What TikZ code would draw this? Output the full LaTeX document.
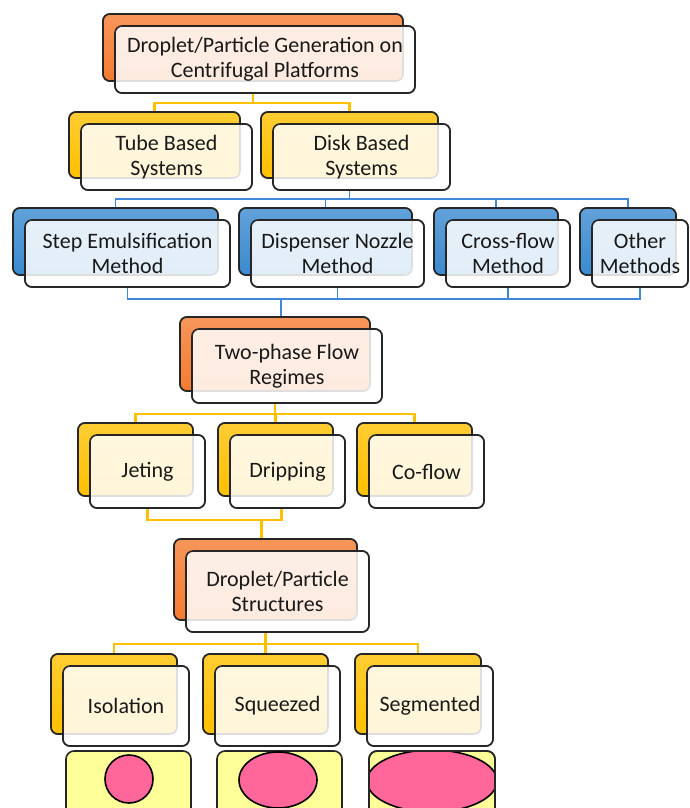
\documentclass[tikz,border=0pt]{standalone}
\usepackage{fontspec}
\setmainfont{Carlito}
\usetikzlibrary{calc}
\definecolor{orangeB}{HTML}{F47B30}
\definecolor{yellowB}{HTML}{FFC000}
\definecolor{blueB}{HTML}{3A8AD0}
\definecolor{yconnC}{HTML}{FFC000}
\definecolor{bconnC}{HTML}{3F88D6}
\definecolor{paleY}{HTML}{FFFF99}
\definecolor{pinkD}{HTML}{FF6699}
\tikzset{
  backbox/.style={draw=black!85, line width=0.8pt, rounded corners=3.5pt,
    top color=#1!80!white, bottom color=#1, shading angle=0},
  frontbox/.style={draw=black!85, line width=0.8pt, rounded corners=3.5pt,
    fill=white, fill opacity=0.85, text opacity=1, align=center, text=black!90,
    font=\fontsize{11}{12.5}\selectfont, inner sep=0pt},
  yconn/.style={draw=yconnC, line width=1.1pt},
  bconn/.style={draw=bconnC, line width=0.9pt},
  shapebox/.style={draw=black!85, line width=0.8pt, rounded corners=4pt, fill=paleY},
  drop/.style={draw=black, line width=0.8pt, fill=pinkD}
}
\newcommand\twobox[7]{%
  \pgfmathsetmacro\bw{(#5-#3)*0.5}%
  \pgfmathsetmacro\bh{(#6-#4)*0.5}%
  \node[backbox=#2, minimum width=\bw pt, minimum height=\bh pt] (#1b) at ({(#3+#5)/2},{(#4+#6)/2}) {};
  \node[frontbox, minimum width=\bw pt, minimum height=\bh pt] (#1) at ({(#3+#5)/2+12},{(#4+#6)/2+12}) {#7};
}
\begin{document}
\begin{tikzpicture}[x=0.5pt,y=-0.5pt]
\useasboundingbox (0,0) rectangle (690,808);
\clip (0,0) rectangle (690,808);
\fill[white] (0,0) rectangle (690,808);

% connectors (drawn first, under boxes)
\coordinate (h1) at (0,103);
\coordinate (h2) at (0,199);
\coordinate (h3) at (0,299);
\coordinate (h4) at (0,414);
\coordinate (h5) at (0,520);
\coordinate (h6) at (0,644);

\twobox{top}{orangeB}{103}{14}{403}{81}{Droplet/Particle Generation on\\Centrifugal Platforms}
\twobox{tube}{yellowB}{69}{112}{240}{178}{Tube Based\\Systems}
\twobox{disk}{yellowB}{261}{112}{438}{178}{Disk Based\\Systems}
\twobox{step}{blueB}{13}{208}{218}{275}{Step Emulsification\\Method}
\twobox{disp}{blueB}{239}{208}{412}{275}{Dispenser Nozzle\\Method}
\twobox{cross}{blueB}{434}{208}{558}{275}{Cross-flow\\Method}
\twobox{other}{blueB}{580}{208}{676}{275}{Other\\Methods}
\twobox{tp}{orangeB}{180}{317}{370}{391}{Two-phase Flow\\Regimes}
\twobox{jet}{yellowB}{78}{423}{193}{496}{Jeting}
\twobox{drip}{yellowB}{218}{423}{333}{496}{Dripping}
\twobox{cof}{yellowB}{357}{423}{472}{496}{Co-flow}
\twobox{st}{orangeB}{174}{539}{357}{620}{Droplet/Particle\\Structures}
\twobox{iso}{yellowB}{51}{654}{177}{734}{Isolation}
\twobox{sq}{yellowB}{203}{654}{328}{734}{Squeezed}
\twobox{seg}{yellowB}{355}{654}{481}{734}{Segmented}

% level 1 -> 2
\draw[yconn] (topb.center |- top.south) -- (topb.center |- h1) -| (tubeb.north);
\draw[yconn] (topb.center |- h1) -| (diskb.north);
% level 2 -> 3
\draw[bconn] (diskb.center |- disk.south) -- (diskb.center |- h2) -| (stepb.north);
\draw[bconn] (diskb.center |- h2) -| (dispb.north);
\draw[bconn] (diskb.center |- h2) -| (crossb.north);
\draw[bconn] (diskb.center |- h2) -| (otherb.north);
% level 3 -> two-phase
\draw[bconn] (step.south) |- (other.south |- h3) -- (other.south);
\draw[bconn] (disp.south) -- (disp.south |- h3);
\draw[bconn] (cross.south) -- (cross.south |- h3);
\coordinate (tpin) at ($(tpb.north)+(6,0)$);
\draw[bconn] (tpin |- h3) -- (tpin);
% two-phase -> regimes
\draw[yconn] (tpb.center |- tp.south) -- (tpb.center |- h4) -| (jetb.north);
\draw[yconn] (tpb.center |- h4) -| (dripb.north);
\draw[yconn] (tpb.center |- h4) -| (cofb.north);
% regimes -> structures
\coordinate (dripout) at ($(drip.south)+(-6,0)$);
\draw[yconn] (jet.south) |- (dripout |- h5) -- (dripout);
\coordinate (stin) at ($(stb.north)+(-4,0)$);
\draw[yconn] (stin |- h5) -- (stin);
% structures -> types
\draw[yconn] (stb.center |- st.south) -- (stb.center |- h6) -| (isob.north);
\draw[yconn] (stb.center |- h6) -| (sqb.north);
\draw[yconn] (stb.center |- h6) -| (segb.north);

% redraw boxes on top of connectors
\twobox{top}{orangeB}{103}{14}{403}{81}{Droplet/Particle Generation on\\Centrifugal Platforms}
\twobox{tube}{yellowB}{69}{112}{240}{178}{Tube Based\\Systems}
\twobox{disk}{yellowB}{261}{112}{438}{178}{Disk Based\\Systems}
\twobox{step}{blueB}{13}{208}{218}{275}{Step Emulsification\\Method}
\twobox{disp}{blueB}{239}{208}{412}{275}{Dispenser Nozzle\\Method}
\twobox{cross}{blueB}{434}{208}{558}{275}{Cross-flow\\Method}
\twobox{other}{blueB}{580}{208}{676}{275}{Other\\Methods}
\twobox{tp}{orangeB}{180}{317}{370}{391}{Two-phase Flow\\Regimes}
\twobox{jet}{yellowB}{78}{423}{193}{496}{Jeting}
\twobox{drip}{yellowB}{218}{423}{333}{496}{Dripping}
\twobox{cof}{yellowB}{357}{423}{472}{496}{Co-flow}
\twobox{st}{orangeB}{174}{539}{357}{620}{Droplet/Particle\\Structures}
\twobox{iso}{yellowB}{51}{654}{177}{734}{Isolation}
\twobox{sq}{yellowB}{203}{654}{328}{734}{Squeezed}
\twobox{seg}{yellowB}{355}{654}{481}{734}{Segmented}

% shape illustrations
\draw[shapebox] (66,751) rectangle (191,820);
\draw[drop] (129,779) circle [radius=24];
\draw[shapebox] (217,751) rectangle (342,820);
\draw[drop] (278,780) ellipse [x radius=39, y radius=28];
\draw[shapebox] (369,751) rectangle (495,820);
\begin{scope}
  \clip[rounded corners=4pt] (369,751) rectangle (495,820);
  \draw[drop] (432,781) ellipse [x radius=65, y radius=31];
\end{scope}
\draw[draw=black!85, line width=0.8pt, rounded corners=4pt] (369,751) rectangle (495,820);
\end{tikzpicture}
\end{document}
